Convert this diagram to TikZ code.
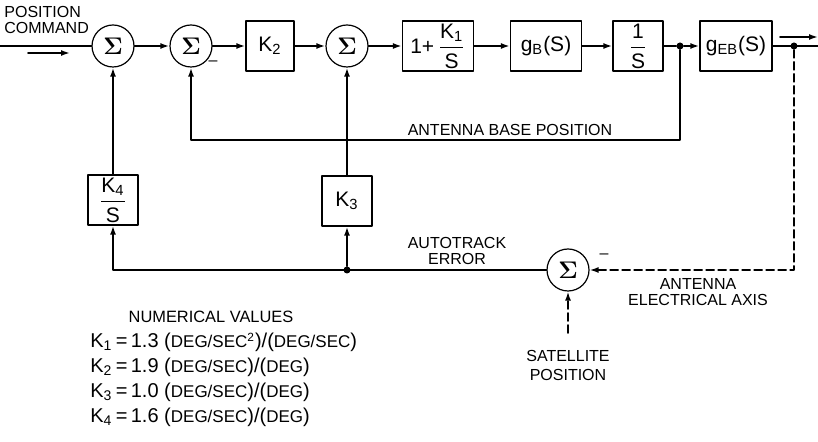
\documentclass[tikz,border=0pt]{standalone}
\usepackage{fontspec}
\usepackage{amsmath}
\setmainfont{Liberation Sans}
\usetikzlibrary{arrows.meta}

\newcommand{\un}[1]{{\fontsize{8.5}{9}\selectfont #1}}
\newcommand{\Sig}{$\boldsymbol{\Sigma}$}

\tikzset{
  sumnode/.style={draw, circle, line width=0.6pt, minimum size=21pt, inner sep=0pt, font=\large},
  blk/.style={draw, rectangle, line width=0.6pt, minimum width=25pt, minimum height=25pt, inner sep=1pt, font=\fontsize{10.5}{11}\selectfont},
  sig/.style={line width=1.1pt},
  lbl/.style={font=\fontsize{8}{8}\selectfont, align=center, inner sep=0pt},
  dot/.style={circle, fill, inner sep=0pt, minimum size=3.5pt}
}

\begin{document}
\begin{tikzpicture}[x=0.5pt, y=-0.5pt, >={Latex[length=4.5pt,width=3pt]}, line join=round, line cap=round]
  \useasboundingbox (0,0) rectangle (818,442);

  % Forward path
  \node[sumnode] (s1) at (113,46) {\Sig};
  \node[sumnode] (s2) at (191,46) {\Sig};
  \node[blk, minimum width=24pt] (k2) at (270,46) {K\textsubscript{2}};
  \node[sumnode] (s3) at (347,46) {\Sig};
  \node[blk, minimum width=35.5pt] (pi) at (438,46) {1+\,$\dfrac{\text{K}_{\text{1}}}{\text{S}}$};
  \node[blk, minimum width=35.5pt] (gb) at (546,46) {g\textsubscript{B}(S)};
  \node[blk] (int) at (638,46) {$\dfrac{\text{1}}{\text{S}}$};
  \node[blk, minimum width=36pt] (geb) at (736,46) {g\textsubscript{EB}(S)};
  \node[dot] (d1) at (680,46) {};
  \node[dot] (d2) at (794,46) {};
  \coordinate (in) at (0,46);
  \coordinate (out) at (818,46);

  % Autotrack loop
  \node[blk] (k4) at (113,200) {$\dfrac{\text{K}_{\text{4}}}{\text{S}}$};
  \node[blk] (k3) at (347,201) {K\textsubscript{3}};
  \node[sumnode] (s4) at (568,270) {\Sig};
  \node[dot] (d3) at (347,270) {};
  \coordinate (sat) at (568,333);

  % Signal lines
  \draw[sig] (in) -- (s1);
  \draw[sig,->] (s1) -- (s2);
  \draw[sig,->] (s2) -- (k2);
  \draw[sig,->] (k2) -- (s3);
  \draw[sig,->] (s3) -- (pi);
  \draw[sig,->] (pi) -- (gb);
  \draw[sig,->] (gb) -- (int);
  \draw[sig] (int) -- (d1);
  \draw[sig,->] (d1) -- (geb);
  \draw[sig] (geb) -- (out);
  \draw[sig,->] (d1) -- (680,140) -| (s2);
  \draw[sig,->] (k4) -- (s1);
  \draw[sig,->] (k3) -- (s3);
  \draw[sig,->] (s4) -| (k4);
  \draw[sig,->] (d3) -- (k3);
  \draw[line width=0.8pt, dash pattern=on 4pt off 2pt, ->] (d2) |- (s4);
  \draw[line width=0.8pt, dash pattern=on 4pt off 2pt, ->] (sat) -- (s4);

  % Direction arrows
  \coordinate (ia) at (28,53);
  \coordinate (ib) at (70,53);
  \coordinate (oa) at (780,37);
  \coordinate (ob) at (818,37);
  \draw[line width=0.8pt,->] (ia) -- (ib);
  \draw[line width=0.8pt,->] (oa) -- (ob);

  % Signs
  \node[lbl] (m2) at (213,63) {--};
  \node[lbl] (m4) at (604,256) {--};

  % Labels
  \node[lbl, anchor=west, align=left] (cmd) at (4,20) {POSITION\\COMMAND};
  \node[lbl] (base) at (510,130) {ANTENNA BASE POSITION};
  \node[lbl] (err) at (457,251) {AUTOTRACK\\ERROR};
  \node[lbl] (axis) at (698,292) {ANTENNA\\ELECTRICAL AXIS};
  \node[lbl, font=\fontsize{8}{9.5}\selectfont] (satl) at (568,365) {SATELLITE\\POSITION};

  % Numerical values
  \node[lbl, font=\fontsize{8.2}{9}\selectfont] (nv) at (211,317) {NUMERICAL VALUES};
  \node[anchor=west, inner sep=0pt, font=\fontsize{10}{11}\selectfont] (v1) at (90,342) {K\textsubscript{1}\,=\,1.3 (\un{DEG/SEC\textsuperscript{2}})/(\un{DEG/SEC})};
  \node[anchor=west, inner sep=0pt, font=\fontsize{10}{11}\selectfont] (v2) at (90,367) {K\textsubscript{2}\,=\,1.9 (\un{DEG/SEC})/(\un{DEG})};
  \node[anchor=west, inner sep=0pt, font=\fontsize{10}{11}\selectfont] (v3) at (90,392) {K\textsubscript{3}\,=\,1.0 (\un{DEG/SEC})/(\un{DEG})};
  \node[anchor=west, inner sep=0pt, font=\fontsize{10}{11}\selectfont] (v4) at (90,417) {K\textsubscript{4}\,=\,1.6 (\un{DEG/SEC})/(\un{DEG})};
\end{tikzpicture}
\end{document}
